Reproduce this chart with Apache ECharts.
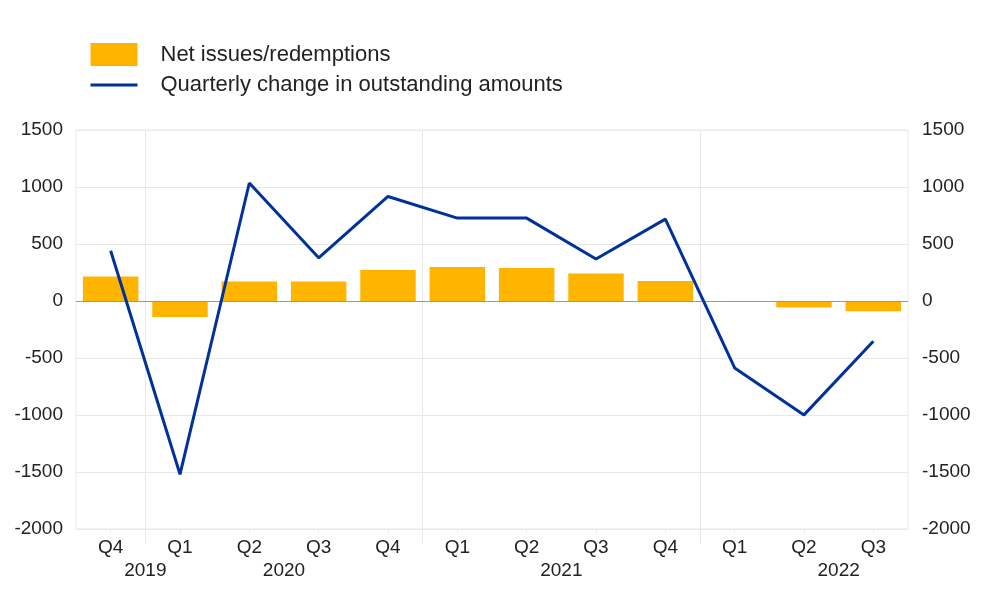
<!DOCTYPE html>
<html>
<head>
<meta charset="utf-8">
<script src="https://cdn.jsdelivr.net/npm/echarts@6/dist/echarts.min.js"></script>
<style>
    html, body { margin: 0; padding: 0; background: #fff; }
    #chart { width: 987px; height: 615px; }
</style>
</head>
<body>
<div id="chart"></div>
<script>
// quarters Q4 2019 .. Q3 2022
var quarters = ['Q4', 'Q1', 'Q2', 'Q3', 'Q4', 'Q1', 'Q2', 'Q3', 'Q4', 'Q1', 'Q2', 'Q3'];
// year labels on a half-step grid (25 points across the axis)
var yearLabels = ['', '', '2019', '', '', '', '2020', '', '', '', '', '', '', '', '2021', '', '', '', '', '', '', '', '2022', '', ''];
var yearBreaks = [2, 10, 18];

var netIssues = [215, -140, 172, 172, 272, 298, 289, 242, 175, -7, -56, -91];
var quarterlyChange = [441, -1520, 1035, 379, 917, 727, 727, 368, 718, -587, -999, -353];

var font = 'Liberation Sans, Arial, Helvetica, sans-serif';
var gridColor = '#e8e8e8';

function plain(v) {
    return String(v);
}

var myChart = echarts.init(document.getElementById('chart'));

var option = {
    animation: false,
    textStyle: {fontFamily: font},
    legend: {
        orient: 'vertical',
        left: 84,
        top: 38,
        itemWidth: 47,
        itemHeight: 23,
        itemGap: 8,
        textStyle: {fontSize: 22, color: '#222', padding: [0, 0, 0, 18], fontFamily: font},
        data: [
            {name: 'Net issues/redemptions', icon: 'rect'},
            {name: 'Quarterly change in outstanding amounts', itemStyle: {opacity: 0}, lineStyle: {width: 3}}
        ]
    },
    grid: {
        left: 76,
        right: 79,
        top: 130,
        bottom: 86,
        show: true,
        borderColor: gridColor,
        borderWidth: 1
    },
    xAxis: [
        {
            type: 'category',
            data: quarters,
            position: 'bottom',
            axisLine: {show: false, onZero: false},
            axisTick: {show: true, alignWithLabel: true, length: 4, lineStyle: {color: gridColor}},
            axisLabel: {fontSize: 19, color: '#222', margin: 9},
            splitLine: {show: false}
        },
        {
            type: 'category',
            data: yearLabels,
            position: 'bottom',
            boundaryGap: false,
            axisLine: {show: false, onZero: false},
            axisTick: {
                show: true,
                length: 15,
                interval: function (i) { return yearBreaks.indexOf(i) >= 0; },
                lineStyle: {color: gridColor}
            },
            axisLabel: {fontSize: 19, color: '#222', margin: 32, interval: 0},
            splitLine: {
                show: true,
                interval: function (i) { return yearBreaks.indexOf(i) >= 0; },
                lineStyle: {color: gridColor}
            }
        }
    ],
    yAxis: [
        {
            type: 'value',
            min: -2000,
            max: 1500,
            interval: 500,
            axisLine: {show: false},
            axisTick: {show: false},
            axisLabel: {fontSize: 19, color: '#222', margin: 13, formatter: plain},
            splitLine: {lineStyle: {color: gridColor}}
        },
        {
            type: 'value',
            min: -2000,
            max: 1500,
            interval: 500,
            position: 'right',
            axisLine: {show: false},
            axisTick: {show: false},
            axisLabel: {fontSize: 19, color: '#222', margin: 14, formatter: plain},
            splitLine: {show: false}
        }
    ],
    series: [
        {
            name: 'Net issues/redemptions',
            type: 'bar',
            data: netIssues,
            barCategoryGap: '20%',
            itemStyle: {color: '#FFB400'},
            markLine: {
                silent: true,
                symbol: 'none',
                label: {show: false},
                lineStyle: {color: '#999', width: 1, type: 'solid'},
                data: [{yAxis: 0}]
            }
        },
        {
            name: 'Quarterly change in outstanding amounts',
            type: 'line',
            data: quarterlyChange,
            symbol: 'none',
            lineStyle: {color: '#003299', width: 3},
            itemStyle: {color: '#003299'},
            z: 5
        }
    ]
};

myChart.setOption(option);
</script>
</body>
</html>
